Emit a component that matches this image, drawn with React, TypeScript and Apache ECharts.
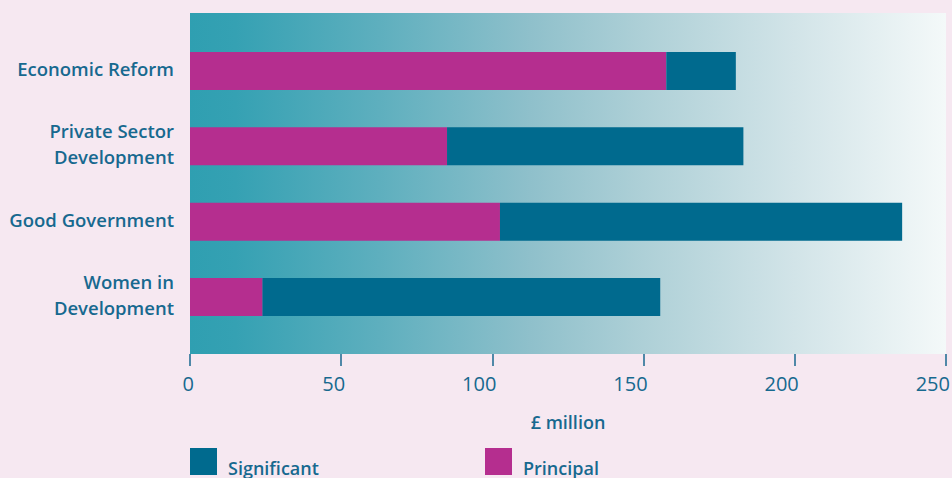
import React, { useEffect, useRef } from "react";
import * as echarts from "echarts";

const categories = ["Economic Reform", "Private Sector\nDevelopment", "Good Government", "Women in\nDevelopment"];
const principal = [157.5, 85, 102.5, 24];
const significant = [23, 98, 133, 131.5];
const xTicks = { min: 0, max: 250, interval: 50 };

const TEXT = "#17698f";
const MAGENTA = "#b52e8f";
const TEAL = "#006a8e";
const FONT = "'Open Sans', sans-serif";

export default function App() {
  const ref = useRef<HTMLDivElement>(null);
  useEffect(() => {
    const chart = echarts.init(ref.current!, null, { renderer: "svg" });
    const legendText = {
      color: TEXT, fontSize: 18, fontWeight: 600, fontFamily: FONT,
      rich: { t: { color: TEXT, fontSize: 18, fontWeight: 600, fontFamily: FONT, padding: [12, 0, 0, 6] } },
    };
    chart.setOption({
      animation: false,
      backgroundColor: "#f6e8f1",
      textStyle: { fontFamily: FONT },
      grid: [
        {
          left: 190, top: 13, right: 6, bottom: 124, show: true, borderWidth: 0,
          containLabel: false, outerBoundsMode: "none",
          backgroundColor: new echarts.graphic.LinearGradient(0, 0, 1, 0, [
            { offset: 0, color: "#2f9fb1" },
            { offset: 0.06, color: "#35a1b3" },
            { offset: 0.25, color: "#5eafbe" },
            { offset: 0.45, color: "#8fc0cb" },
            { offset: 0.6, color: "#aed0d7" },
            { offset: 0.8, color: "#d2e4e8" },
            { offset: 1, color: "#f4f9f9" },
          ]),
        },
        { left: 190, top: 33.4, right: 6, height: 301.2, containLabel: false, outerBoundsMode: "none" },
      ],
      xAxis: [
        {
          gridIndex: 0, type: "value", min: xTicks.min, max: xTicks.max, interval: xTicks.interval,
          axisLine: { show: false },
          axisTick: { show: true, length: 12, lineStyle: { color: TEXT, width: 1.5 } },
          splitLine: { show: false },
          axisLabel: { color: TEXT, fontSize: 20, margin: 19, fontFamily: FONT, align: "right", padding: [0, -4, 0, 0] },
          name: "£ million", nameLocation: "middle", nameGap: 59,
          nameTextStyle: { color: TEXT, fontSize: 18, fontWeight: 600, fontFamily: FONT },
        },
        {
          gridIndex: 1, type: "value", min: xTicks.min, max: xTicks.max, show: false,
        },
      ],
      yAxis: [
        { gridIndex: 0, type: "category", data: categories, show: false },
        {
          gridIndex: 1, type: "category", data: categories, inverse: true,
          axisLine: { show: false }, axisTick: { show: false },
          axisLabel: {
            color: TEXT, fontSize: 18.5, fontWeight: 600, margin: 16, lineHeight: 26, fontFamily: FONT,
            formatter: (v: string) => v.split("\n").map((s) => `{a|${s}}`).join("\n"),
            rich: { a: { color: TEXT, fontSize: 18.5, fontWeight: 600, lineHeight: 26, fontFamily: FONT, padding: [0, 0, 5, 0] } },
          },
        },
      ],
      legend: [
        {
          data: ["Significant"], left: 190, top: 448, padding: 0, itemWidth: 27, itemHeight: 27, itemGap: 10,
          icon: "rect", formatter: "{t|{name}}", textStyle: legendText,
        },
        {
          data: ["Principal"], left: 485, top: 448, padding: 0, itemWidth: 27, itemHeight: 27, itemGap: 10,
          icon: "rect", formatter: "{t|{name}}", textStyle: legendText,
        },
      ],
      series: [
        {
          name: "Principal", type: "bar", stack: "t", xAxisIndex: 1, yAxisIndex: 1,
          data: principal, barWidth: 38, itemStyle: { color: MAGENTA },
        },
        {
          name: "Significant", type: "bar", stack: "t", xAxisIndex: 1, yAxisIndex: 1,
          data: significant, barWidth: 38, itemStyle: { color: TEAL },
        },
      ],
    });
    return () => chart.dispose();
  }, []);
  return <div ref={ref} style={{ width: 952, height: 478, position: "absolute", left: 0, top: 0 }} />;
}
